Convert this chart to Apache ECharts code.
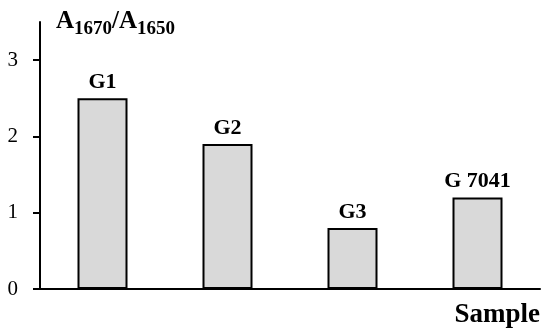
<!DOCTYPE html>
<html>
<head>
<meta charset="utf-8">
<script src="https://cdn.jsdelivr.net/npm/echarts@6/dist/echarts.min.js"></script>
<style>html,body{margin:0;padding:0;background:#fff;}#c{width:550px;height:336px;}</style>
</head>
<body>
<div id="c"></div>
<script>
var categories = ['G1', 'G2', 'G3', 'G 7041'];
var values = [2.5, 1.9, 0.8, 1.2];
var yTicks = [0, 1, 2, 3];

var font = '"Liberation Serif", "Times New Roman", serif';
var chart = echarts.init(document.getElementById('c'), null, {renderer: 'canvas'});
chart.setOption({
  animation: false,
  backgroundColor: '#ffffff',
  grid: {left: 40, right: 10, top: 22, bottom: 47, containLabel: false},
  xAxis: {
    type: 'category',
    data: categories,
    boundaryGap: true,
    axisLine: {lineStyle: {color: '#000', width: 2}},
    axisTick: {show: false},
    axisLabel: {show: false},
    name: 'Sample',
    nameLocation: 'end',
    nameGap: 0,
    nameTextStyle: {fontFamily: font, fontWeight: 'bold', fontSize: 27, color: '#000', align: 'right', verticalAlign: 'top', padding: [13, 0, 0, 0]}
  },
  yAxis: {
    type: 'value',
    min: 0,
    max: 3.5,
    interval: 1,
    splitLine: {show: false},
    axisLine: {show: true, lineStyle: {color: '#000', width: 2}},
    axisTick: {show: true, length: 7, customValues: yTicks, lineStyle: {color: '#000', width: 2}},
    axisLabel: {customValues: yTicks, margin: 22, fontFamily: font, fontSize: 21, color: '#000'},
    name: '{b|A}{s|1670}{b|/A}{s|1650}',
    nameLocation: 'end',
    nameGap: 0,
    nameTextStyle: {
      align: 'left', verticalAlign: 'middle', padding: [4, 0, 0, 16],
      rich: {
        b: {fontFamily: font, fontWeight: 'bold', fontSize: 25, color: '#000', lineHeight: 30, verticalAlign: 'top'},
        s: {fontFamily: font, fontWeight: 'bold', fontSize: 19, color: '#000', lineHeight: 24, verticalAlign: 'bottom', padding: [14, 0, 0, 0]}
      }
    }
  },
  series: [{
    type: 'bar',
    data: values,
    barWidth: '40%',
    itemStyle: {color: '#d9d9d9', borderColor: '#000', borderWidth: 2},
    label: {
      show: true, position: 'top', distance: 5,
      formatter: function (p) { return p.name; },
      fontFamily: font, fontWeight: 'bold', fontSize: 22, color: '#000'
    }
  }]
});
</script>
</body>
</html>
